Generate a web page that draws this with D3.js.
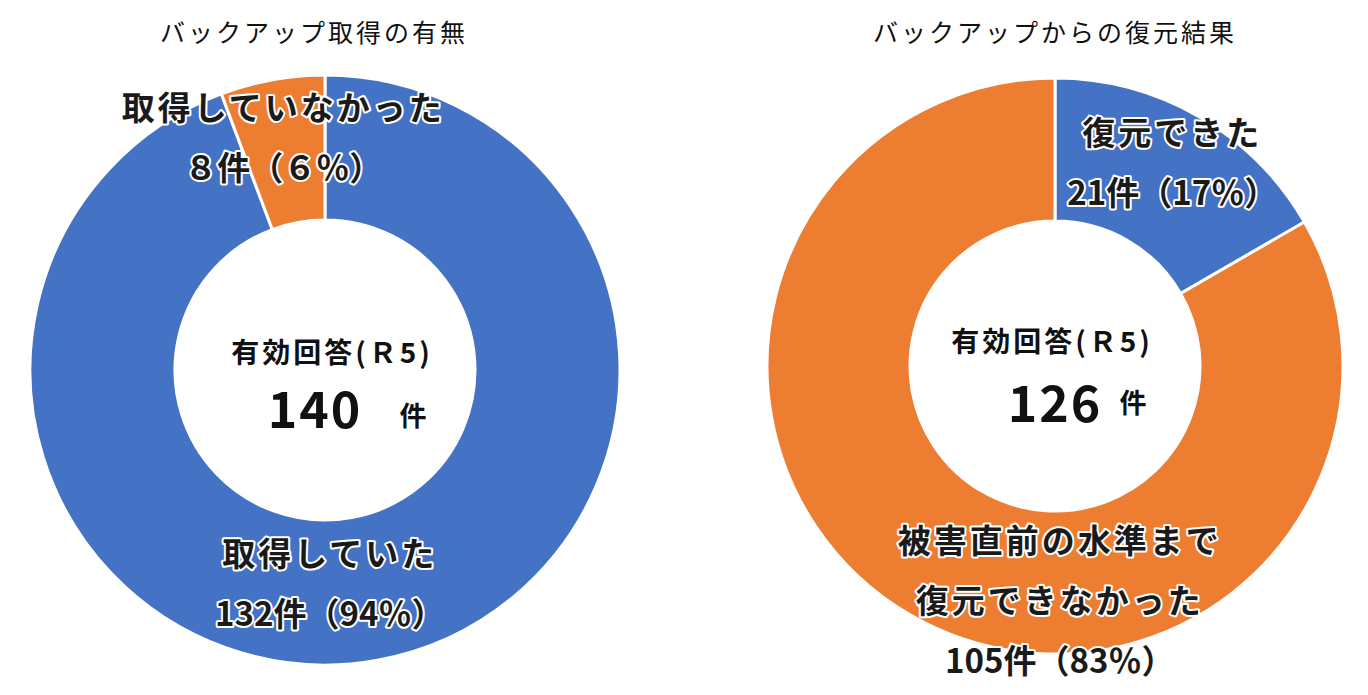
<!DOCTYPE html>
<html>
<head>
<meta charset="utf-8">
<script src="https://cdn.jsdelivr.net/npm/d3@7"></script>
<style>
  body { margin: 0; background: #fff; }
  text { font-family: "Noto Sans CJK JP", "Noto Sans", sans-serif; }
</style>
</head>
<body>
<svg id="svg-main" width="1368" height="695"></svg>
<script>
// left chart: backup taken or not
var leftTitle = "バックアップ取得の有無";
var leftCategories = [["取得していた"], ["取得していなかった"]];
var leftValues = [132, 8];
var leftValueLabels = ["132件（94％）", "８件（６％）"];

// right chart: result of restoring
var rightTitle = "バックアップからの復元結果";
var rightCategories = [["復元できた"], ["被害直前の水準まで", "復元できなかった"]];
var rightValues = [21, 105];
var rightValueLabels = ["21件（17％）", "105件（83％）"];

var centerCaption = "有効回答(Ｒ5)";
var unit = "件";
var colors = ["#4472C4", "#ED7D31"];

var svg = d3.select("#svg-main");

function drawDonut(opt) {
    var g = svg.append("g")
      .attr("transform", "translate(" + opt.cx + "," + opt.cy + ")");

    var pie = d3.pie().sort(null).value(function(d) { return d; });
    var arc = d3.arc().innerRadius(opt.r0).outerRadius(opt.r1);
    var arcs = pie(opt.values);

    g.selectAll("path.slice")
      .data(arcs)
      .enter()
      .append("path")
      .attr("class", "slice")
      .attr("d", arc)
      .attr("fill", function(d, i) { return colors[i]; })
      .attr("stroke", "white")
      .attr("stroke-width", 3);

    // slice labels, placed from the centroid with a nudge like the original
    arcs.forEach(function(a, i) {
        var c = arc.centroid(a);
        var lines = opt.categories[i].concat([opt.valueLabels[i]]);
        var t = g.append("text")
          .attr("text-anchor", "middle")
          .attr("font-weight", 700)
          .style("font-size", "33px")
          .attr("fill", "#1a1a1a")
          .attr("stroke", "white")
          .attr("stroke-width", 4)
          .attr("stroke-linejoin", "round")
          .attr("paint-order", "stroke");
        lines.forEach(function(s, k) {
            var last = k == lines.length - 1;
            t.append("tspan")
              .attr("x", c[0] + opt.labelShift[i][0])
              .attr("y", c[1] + opt.labelShift[i][1] + k * 60)
              .attr("letter-spacing", last ? "0px" : "3px")
              .text(s);
        });
    });

    var total = d3.sum(opt.values);

    g.append("text")
      .attr("x", opt.caption[0])
      .attr("y", opt.caption[1])
      .attr("text-anchor", "middle")
      .attr("font-weight", 700)
      .attr("fill", "#111")
      .style("font-size", "28px")
      .attr("letter-spacing", "3px")
      .text(centerCaption);

    g.append("text")
      .attr("x", opt.total[0])
      .attr("y", opt.total[1])
      .attr("text-anchor", "middle")
      .attr("font-weight", 700)
      .attr("fill", "#111")
      .style("font-size", "50px")
      .attr("letter-spacing", "2px")
      .text(total);

    g.append("text")
      .attr("x", opt.unit[0])
      .attr("y", opt.unit[1])
      .attr("text-anchor", "middle")
      .attr("font-weight", 700)
      .attr("fill", "#111")
      .style("font-size", "27px")
      .text(unit);

    svg.append("text")
      .attr("x", opt.cx + opt.titleDx)
      .attr("y", 42)
      .attr("text-anchor", "middle")
      .attr("font-weight", 400)
      .attr("fill", "#111")
      .style("font-size", "25px")
      .attr("letter-spacing", "3px")
      .text(opt.title);
}

drawDonut({
    cx: 325, cy: 370, r0: 150, r1: 295,
    values: leftValues,
    categories: leftCategories,
    valueLabels: leftValueLabels,
    labelShift: [[-35, -23], [-2, -31]],
    caption: [7, -7],
    total: [-10, 58],
    unit: [88, 56],
    title: leftTitle,
    titleDx: -11
});

drawDonut({
    cx: 1055, cy: 366, r0: 145, r1: 288,
    values: rightValues,
    categories: rightCategories,
    valueLabels: rightValueLabels,
    labelShift: [[9, -34], [113, 0]],
    caption: [-3, -14],
    total: [0, 56],
    unit: [78, 47],
    title: rightTitle,
    titleDx: 0
});
</script>
</body>
</html>
